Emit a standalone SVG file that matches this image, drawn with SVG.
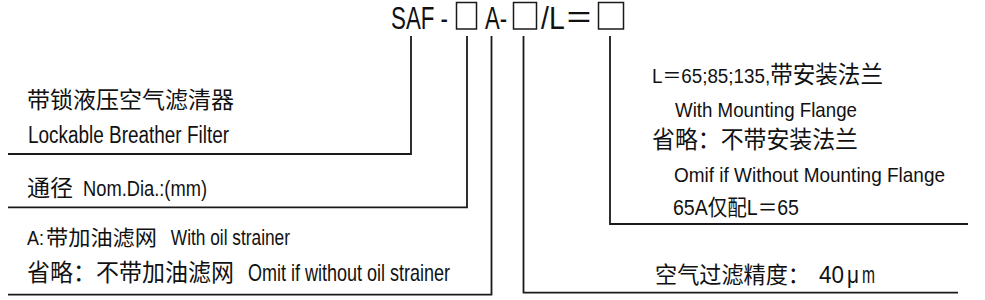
<svg xmlns="http://www.w3.org/2000/svg" width="985" height="300" viewBox="0 0 985 300">
<style>
text{font-family:"Liberation Sans","Noto Sans CJK SC",sans-serif;fill:#111}
.ln{fill:none;stroke:#1a1a1a;stroke-width:1.8}
.box{fill:none;stroke:#1a1a1a;stroke-width:1.5}
</style>
<rect width="985" height="300" fill="#fff"/>
<g id="title">
<rect class="box" x="456.5" y="2.5" width="20" height="26.5"/>
<rect class="box" x="513.5" y="2.5" width="23" height="26.5"/>
<rect class="box" x="598.5" y="2.5" width="25" height="26.5"/>
<text x="391" y="29" font-size="32" textLength="57" lengthAdjust="spacingAndGlyphs">SAF -</text>
<text x="485" y="29" font-size="32" textLength="22" lengthAdjust="spacingAndGlyphs">A-</text>
<text x="541" y="29" font-size="32" textLength="52" lengthAdjust="spacingAndGlyphs">/L＝</text>
</g>
<g id="product">
<text x="27" y="108" font-size="23" textLength="207" lengthAdjust="spacingAndGlyphs">带锁液压空气滤清器</text>
<text x="28" y="142.5" font-size="23" textLength="201" lengthAdjust="spacingAndGlyphs">Lockable Breather Filter</text>
</g>
<g id="diameter">
<text y="196" font-size="22"><tspan x="27" textLength="46" lengthAdjust="spacingAndGlyphs" font-size="23">通径</tspan><tspan x="78" textLength="129" lengthAdjust="spacingAndGlyphs"> Nom.Dia.:(mm)</tspan></text>
</g>
<g id="strainer">
<text y="245" font-size="21"><tspan x="27" textLength="17" lengthAdjust="spacingAndGlyphs" font-size="20">A:</tspan><tspan x="46" textLength="111" lengthAdjust="spacingAndGlyphs">带加油滤网</tspan><tspan x="166" textLength="124" lengthAdjust="spacingAndGlyphs" font-size="22"> With oil strainer</tspan></text>
<text y="281" font-size="24"><tspan x="27" textLength="207" lengthAdjust="spacingAndGlyphs">省略：不带加油滤网</tspan><tspan x="243" textLength="207" lengthAdjust="spacingAndGlyphs"> Omit if without oil strainer</tspan></text>
</g>
<g id="flange">
<text x="652" y="83" font-size="24" textLength="231" lengthAdjust="spacingAndGlyphs"><tspan font-size="20">L＝65;85;135,</tspan>带安装法兰</text>
<text x="675" y="116.5" font-size="21" textLength="182" lengthAdjust="spacingAndGlyphs">With Mounting Flange</text>
<text x="652" y="148" font-size="24" textLength="206" lengthAdjust="spacingAndGlyphs">省略：不带安装法兰</text>
<text x="674" y="181.5" font-size="21" textLength="271" lengthAdjust="spacingAndGlyphs">Omif if Without Mounting Flange</text>
<text x="673" y="215" font-size="22" textLength="126" lengthAdjust="spacingAndGlyphs">65A仅配L＝65</text>
</g>
<g id="precision">
<text y="283" font-size="23"><tspan x="655" textLength="155" lengthAdjust="spacingAndGlyphs">空气过滤精度：</tspan><tspan x="819" textLength="25" lengthAdjust="spacingAndGlyphs" font-size="24">40</tspan><tspan x="847" textLength="12" lengthAdjust="spacingAndGlyphs" font-size="24">μ</tspan><tspan x="862" textLength="13" lengthAdjust="spacingAndGlyphs" font-size="24">m</tspan></text>
</g>
<g id="connectors">
<path class="ln" d="M411 36V154H8"/>
<path class="ln" d="M467 36V207.3H8"/>
<path class="ln" d="M491.5 36V294.7H8"/>
<path class="ln" d="M523.5 36V292.7H958"/>
<path class="ln" d="M610 36V224H968"/>
</g>
</svg>
